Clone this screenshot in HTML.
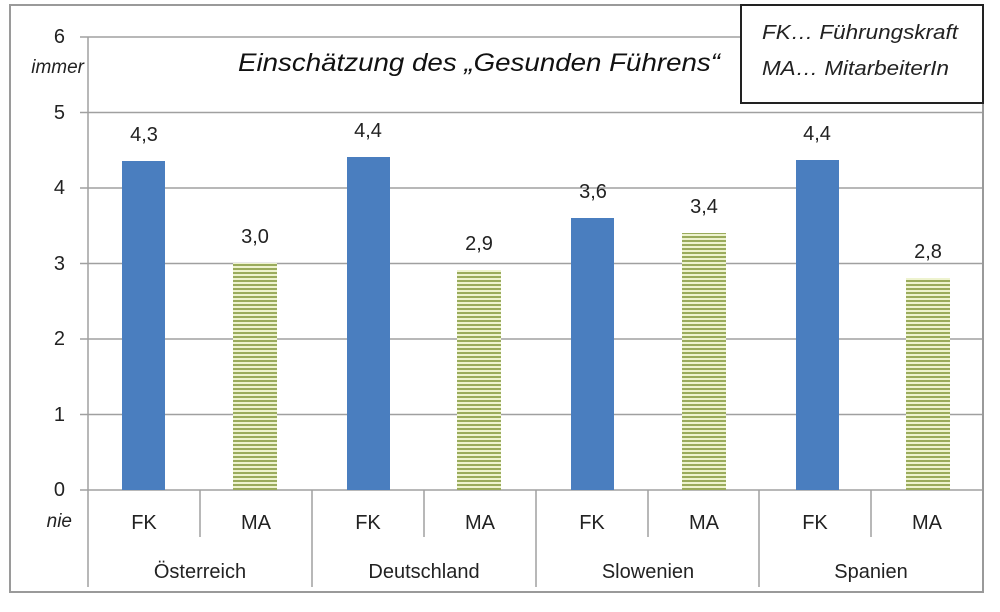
<!DOCTYPE html><html><head><style>body{margin:0;background:#fff}</style></head><body>
<svg width="1000" height="607" xmlns="http://www.w3.org/2000/svg" font-family="Liberation Sans, sans-serif">
<defs><pattern id="st" width="8" height="4" patternUnits="userSpaceOnUse"><rect width="8" height="4" fill="#eef3cf"/><rect y="0" width="8" height="2" fill="#9aab5c"/></pattern></defs>
<rect x="10" y="5" width="973" height="587" fill="#fff" stroke="#9a9a9a" stroke-width="2"/>
<g stroke="#a0a0a0" stroke-width="1.5">
<line x1="80" y1="37" x2="982" y2="37"/><line x1="80" y1="112.5" x2="982" y2="112.5"/><line x1="80" y1="188" x2="982" y2="188"/><line x1="80" y1="263.5" x2="982" y2="263.5"/><line x1="80" y1="339" x2="982" y2="339"/><line x1="80" y1="414.5" x2="982" y2="414.5"/><line x1="80" y1="490" x2="982" y2="490"/>
<line x1="88" y1="37" x2="88" y2="587"/>
<line x1="200" y1="490" x2="200" y2="537"/><line x1="424" y1="490" x2="424" y2="537"/><line x1="648" y1="490" x2="648" y2="537"/><line x1="871" y1="490" x2="871" y2="537"/>
<line x1="312" y1="490" x2="312" y2="587"/><line x1="536" y1="490" x2="536" y2="587"/><line x1="759" y1="490" x2="759" y2="587"/>
</g>
<g fill="#4a7ebf"><rect x="122" y="161" width="43" height="329"/><rect x="347" y="157" width="43" height="333"/><rect x="571" y="218" width="43" height="272"/><rect x="796" y="160" width="43" height="330"/></g>
<g fill="url(#st)"><rect x="233" y="263" width="44" height="227"/><rect x="457" y="270" width="44" height="220"/><rect x="682" y="233" width="44" height="257"/><rect x="906" y="278" width="44" height="212"/></g>
<g font-size="20" text-anchor="middle" fill="#222">
<text x="144" y="141">4,3</text><text x="368" y="137">4,4</text><text x="593" y="198">3,6</text><text x="817" y="140">4,4</text>
<text x="255" y="243">3,0</text><text x="479" y="250">2,9</text><text x="704" y="213">3,4</text><text x="928" y="258">2,8</text>
<text x="144" y="529">FK</text><text x="256" y="529">MA</text><text x="368" y="529">FK</text><text x="480" y="529">MA</text><text x="592" y="529">FK</text><text x="704" y="529">MA</text><text x="815" y="529">FK</text><text x="927" y="529">MA</text>
<text x="200" y="578">Österreich</text><text x="424" y="578">Deutschland</text><text x="648" y="578">Slowenien</text><text x="871" y="578">Spanien</text>
</g>
<g font-size="20" text-anchor="end" fill="#222">
<text x="65" y="43">6</text><text x="65" y="119">5</text><text x="65" y="194">4</text><text x="65" y="270">3</text><text x="65" y="345">2</text><text x="65" y="421">1</text><text x="65" y="496">0</text>
<text x="84" y="73" font-style="italic" font-size="19">immer</text><text x="72" y="527" font-style="italic" font-size="19">nie</text>
</g>
<text x="238" y="71" font-size="25" font-style="italic" fill="#111" textLength="482" lengthAdjust="spacingAndGlyphs">Einschätzung des „Gesunden Führens“</text>
<rect x="741" y="5" width="242" height="98" fill="#fff" stroke="#222" stroke-width="2"/>
<g font-size="20" font-style="italic" fill="#222"><text x="762" y="39" textLength="196" lengthAdjust="spacingAndGlyphs">FK… Führungskraft</text><text x="762" y="75" textLength="187" lengthAdjust="spacingAndGlyphs">MA… MitarbeiterIn</text></g>
</svg></body></html>
